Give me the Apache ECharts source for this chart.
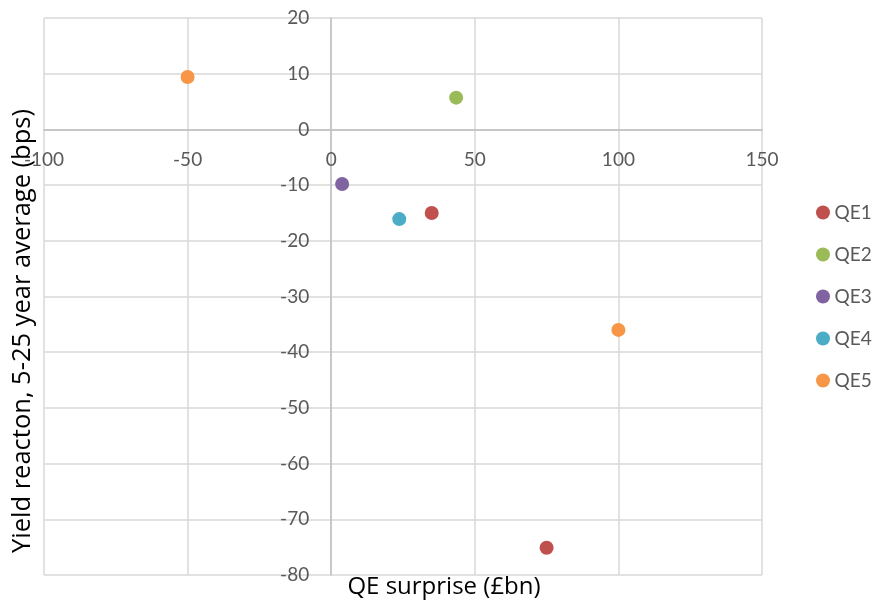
<!DOCTYPE html>
<html><head><meta charset="utf-8">
<script src="https://cdn.jsdelivr.net/npm/echarts@6/dist/echarts.min.js"></script>
<style>html,body{margin:0;padding:0;background:#fff}#c{width:874px;height:600px}</style>
</head><body><div id="c"></div>
<script>
var seriesNames = ['QE1','QE2','QE3','QE4','QE5'];
var seriesColors = ['#c0504d','#9bbb59','#8064a2','#4bacc6','#f79646'];
var qe1 = [[35, -15], [75, -75.1]];
var qe2 = [[43.5, 5.7]];
var qe3 = [[3.8, -9.8]];
var qe4 = [[23.7, -16.1]];
var qe5 = [[-50, 9.4], [100, -36]];
var seriesData = [qe1, qe2, qe3, qe4, qe5];
var xTitle = 'QE surprise (£bn)';
var yTitle = 'Yield reacton, 5-25 year average (bps)';
var xMin = -100, xMax = 150, xStep = 50;
var yMin = -80, yMax = 20, yStep = 10;

var FONT = 'Lato';
var TFONT = 'Open Sans';
var G = {left:44, right:112, top:18, bottom:25};
var plotW = 874 - G.left - G.right, plotH = 600 - G.top - G.bottom;
// move axes to cross at zero (pixel offset from their default edge)
var xOff = -plotH * (0 - yMin) / (yMax - yMin);
var yOff = -plotW * (0 - xMin) / (xMax - xMin);

var chart = echarts.init(document.getElementById('c'), null, {renderer:'canvas'});
chart.setOption({
  animation:false,
  textStyle:{fontFamily:FONT},
  grid:{left:G.left, right:G.right, top:G.top, bottom:G.bottom, containLabel:false, outerBoundsMode:'none'},
  xAxis:{type:'value', min:xMin, max:xMax, interval:xStep, position:'bottom', offset:xOff,
    axisLine:{onZero:false, lineStyle:{color:'#bfbfbf', width:1.5}},
    axisTick:{show:false},
    axisLabel:{margin:21, fontSize:19, color:'#595959', fontFamily:FONT},
    splitLine:{show:true, lineStyle:{color:'#d9d9d9', width:1.5}}},
  yAxis:{type:'value', min:yMin, max:yMax, interval:yStep, position:'left', offset:yOff,
    axisLine:{onZero:false, lineStyle:{color:'#bfbfbf', width:1.5}},
    axisTick:{show:false},
    axisLabel:{margin:22, fontSize:19, color:'#595959', fontFamily:FONT},
    splitLine:{show:true, lineStyle:{color:'#d9d9d9', width:1.5}}},
  legend:{orient:'vertical', left:811, top:198, itemGap:23, itemWidth:15, itemHeight:14,
    icon:'circle', textStyle:{fontSize:19, color:'#595959', fontFamily:FONT, padding:[0,0,0,-1]},
    data:seriesNames},
  graphic:[
    {type:'text', x:444, y:587, style:{text:xTitle, fontSize:24, fill:'#000', fontFamily:TFONT, textAlign:'center', textVerticalAlign:'middle'}},
    {type:'text', rotation:Math.PI/2, x:23, y:331, style:{text:yTitle, fontSize:25.5, fill:'#000', fontFamily:TFONT, textAlign:'center', textVerticalAlign:'middle'}}
  ],
  series: seriesNames.map(function(n,i){
    return {name:n, type:'scatter', data:seriesData[i], symbol:'circle', symbolSize:14,
      itemStyle:{color:seriesColors[i], opacity:1}};
  })
});
</script></body></html>
